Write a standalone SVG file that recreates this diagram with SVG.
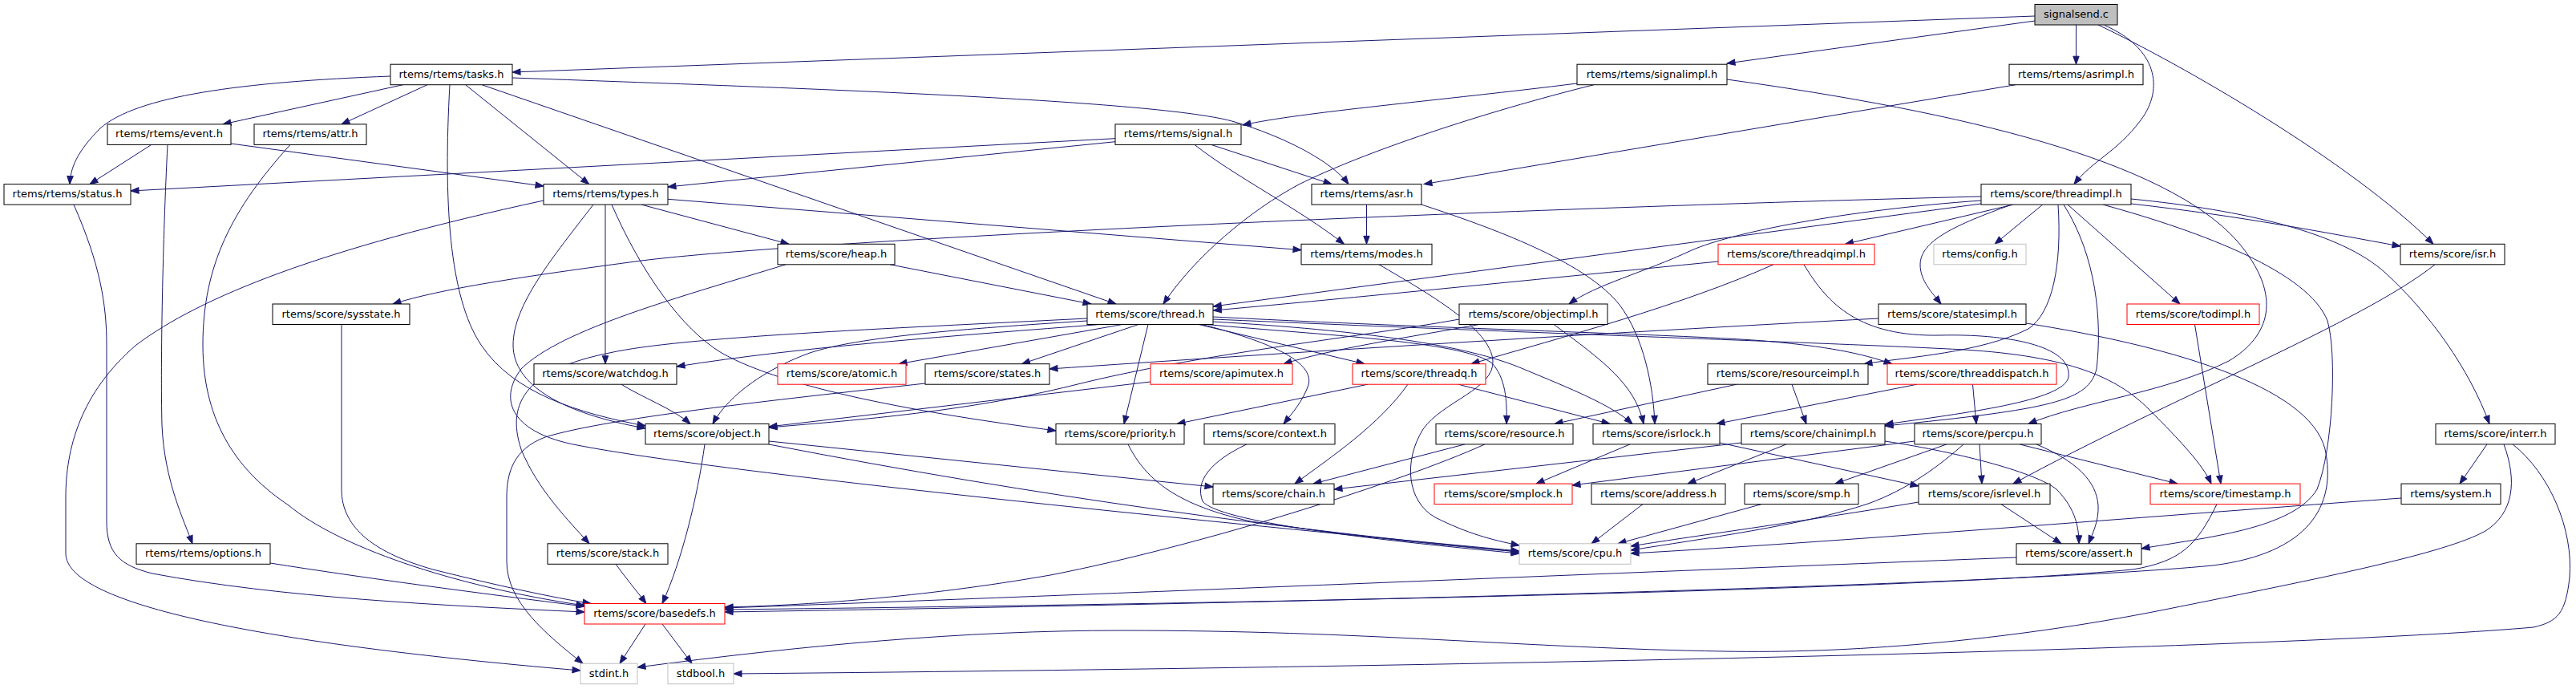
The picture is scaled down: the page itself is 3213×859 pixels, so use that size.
<svg xmlns="http://www.w3.org/2000/svg" width="3213" height="859" viewBox="0 0 3213 859">
<defs>
<marker id="a" markerUnits="userSpaceOnUse" markerWidth="12" markerHeight="10" refX="10" refY="4" orient="auto" overflow="visible">
<path d="M0,0.3 L10,4 L0,7.7 z" fill="#191970" stroke="#191970" stroke-width="1"/>
</marker>
<style>
.node rect{fill:#ffffff;stroke:#000000;stroke-width:1}
.node.red rect{stroke:#ff0000}
.node.gray rect{stroke:#bfbfbf}
.node.root rect{fill:#bfbfbf}
.node text{font-family:'DejaVu Sans','Liberation Sans',sans-serif;font-size:13px;text-anchor:middle;fill:#000000}
#edges path{fill:none;stroke:#191970;stroke-width:1;marker-end:url(#a)}
</style>
</defs>
<rect width="3213" height="859" fill="#ffffff"/>
<g id="edges">
<path d="M2538,20 L639,90"/>
<path d="M2538,26 L2154,79"/>
<path d="M2589.5,31 L2589.5,80.2"/>
<path d="M2625,31.5 C2690,60 2700,110 2670,150 C2640,190 2610,200 2587,229.6"/>
<path d="M2617,31 C2720,80 2930,200 3035,304.3"/>
<path d="M487,95 C300,102 170,120 125,160 C95,190 88,210 87,229.6"/>
<path d="M502.6,105.7 L278,154.9"/>
<path d="M533,105.7 L426,154.9"/>
<path d="M580.6,105.7 L734.7,229.6"/>
<path d="M601,105.7 L1392,379"/>
<path d="M561,105.7 C553,250 560,370 600,430 C640,490 720,515 805,531"/>
<path d="M639,97 C1000,110 1450,125 1540,152 C1600,170 1660,200 1682,229.6"/>
<path d="M1967,104 C1800,125 1620,140 1550,156"/>
<path d="M1988,105.7 C1850,140 1700,190 1620,230 C1560,262 1490,320 1451,379"/>
<path d="M2154,99 C2450,140 2700,200 2790,300 C2850,370 2830,420 2780,450 C2700,490 2600,500 2530,528.4"/>
<path d="M2514,105.7 L1776,229.6"/>
<path d="M188.8,180.4 L112,229.6"/>
<path d="M288,179 L678,232"/>
<path d="M209,180.4 C203,300 200,450 202,530 C205,600 230,650 240,677.8"/>
<path d="M362,180.4 C290,260 253,330 253,430 C253,530 300,590 360,630 C420,680 560,730 729,755"/>
<path d="M1391,172.7 L163,238"/>
<path d="M1391,176.7 L833,233"/>
<path d="M1510.7,180.4 L1661,229.6"/>
<path d="M1490,180.4 C1540,220 1620,260 1676.5,304.3"/>
<path d="M92,255.1 C125,330 133,380 133,430 L133,650 C133,690 150,705 190,715 C350,745 550,755 729,763"/>
<path d="M800,255.1 L984,304.3"/>
<path d="M833,248.3 L1623,311.7"/>
<path d="M755,255.1 L755,453.7"/>
<path d="M740,255.1 C690,320 640,380 640,430 C640,480 700,515 805,534"/>
<path d="M763,255.1 C800,340 850,410 900,440 C980,485 1150,515 1317,537"/>
<path d="M678,250 C400,310 250,370 170,430 C100,490 82,560 82,620 L82,690 C82,750 300,800 724,836"/>
<path d="M1704.5,255.1 L1704.5,304.3"/>
<path d="M1773,255.1 C1880,290 1980,330 2020,380 C2050,420 2062,480 2064,528.4"/>
<path d="M2471,245 C1800,262 1000,300 800,325 C650,345 550,360 490,379"/>
<path d="M2471,250 C2300,262 2160,290 2110,312 C2050,340 1990,355 1957,379"/>
<path d="M2471,254 L1513.3,382"/>
<path d="M2511,255.1 L2301.5,304.3"/>
<path d="M2547.7,255.1 L2488,304.3"/>
<path d="M2508,255.5 C2440,280 2395,300 2395,330 C2395,350 2410,365 2421,379"/>
<path d="M2579,255.1 L2719,379"/>
<path d="M2658,254 C2800,270 2900,290 2994,307"/>
<path d="M2574,255.1 C2615,320 2622,400 2615,460 C2605,500 2560,510 2351,531"/>
<path d="M2567,255.1 C2572,330 2560,390 2530,410 C2470,440 2380,445 2325,453.7"/>
<path d="M2623,255.1 C2750,290 2880,340 2903,400 C2915,440 2910,560 2890,610 C2860,660 2750,670 2671,684"/>
<path d="M2658,248 C2800,262 2920,290 2975,340 C3030,390 3080,460 3105,528.4"/>
<path d="M1110,329.8 L1361,379"/>
<path d="M980,329.8 C850,370 700,410 650,460 C620,500 640,540 720,555 C900,590 1500,650 1895,687"/>
<path d="M1720,329.8 C1780,365 1860,410 1862,450 C1864,485 1800,500 1775,535 C1750,575 1755,625 1790,645 C1830,665 1860,673 1895,680"/>
<path d="M2143,326 C1900,350 1650,375 1513.3,387"/>
<path d="M2212,329.8 C2100,380 1950,420 1835,453.7"/>
<path d="M2250,329.8 C2280,380 2320,420 2420,418 C2500,416 2585,430 2580,470 C2575,500 2450,515 2351,529"/>
<path d="M3037,329.8 C2950,400 2700,500 2511,603.1"/>
<path d="M426,404.5 L426,610 C426,660 470,690 540,710 C620,730 690,745 737,752.5"/>
<path d="M1372,404.5 C1200,418 1000,432 844,457"/>
<path d="M1356,400 C1200,410 1070,420 1010,440 C960,458 910,490 889,528.4"/>
<path d="M1400,404.5 L1121,453.7"/>
<path d="M1420,404.5 L1274.5,453.7"/>
<path d="M1432,404.5 L1402,528.4"/>
<path d="M1499,404.5 C1580,425 1640,450 1632,480 C1625,500 1612,515 1601,528.4"/>
<path d="M1356,397 C1100,410 850,420 760,440 C660,460 630,500 650,560 C670,610 710,650 735,677.8"/>
<path d="M1495,404.5 L1702,453.7"/>
<path d="M1505,404.5 C1650,418 1820,425 1860,452 C1878,470 1880,500 1879,528.4"/>
<path d="M1513,401 C1700,412 1830,430 1900,460 C1960,485 2010,505 2036,528.4"/>
<path d="M1513,395 C1800,410 2100,417 2200,425 C2280,432 2320,440 2360,453.7"/>
<path d="M1513,398 C1900,415 2300,428 2450,436 C2580,444 2640,470 2680,510 C2720,550 2748,580 2758,603.1"/>
<path d="M1820,398 C1700,420 1500,440 1340,480 C1200,515 1050,525 959,533"/>
<path d="M1845,404.5 C1760,420 1660,435 1601,453.7"/>
<path d="M1938,404.5 C2000,450 2040,480 2050,528.4"/>
<path d="M2343,397 C2000,415 1600,440 1309,460"/>
<path d="M2527,403 C2700,430 2880,480 2900,560 C2915,630 2880,690 2760,705 C2500,730 1600,752 904,763"/>
<path d="M2737.5,404.5 L2770,603.1"/>
<path d="M775,479.2 C800,495 840,510 861,528.4"/>
<path d="M1154,478 C1000,495 760,520 680,545 C640,560 632,590 632,620 L632,700 C632,750 680,790 727,827.2"/>
<path d="M1435,476 L959,532"/>
<path d="M1706,479.2 L1468,528.4"/>
<path d="M1756,479.2 C1720,530 1660,570 1615,603.1"/>
<path d="M1819,479.2 L2008,528.4"/>
<path d="M2166,479.2 L1939,528.4"/>
<path d="M2235,479.2 L2253,528.4"/>
<path d="M2460.5,479.2 L2465,528.4"/>
<path d="M2391,479.2 L2141,528.4"/>
<path d="M879,553.9 C870,620 850,700 826,752.5"/>
<path d="M959,550 L1513,607"/>
<path d="M959,554 C1300,620 1600,660 1895,688"/>
<path d="M1407,553.9 C1430,600 1470,630 1560,650 C1700,670 1800,680 1895,688"/>
<path d="M1555,553.9 C1510,575 1490,600 1500,625 C1520,650 1700,672 1895,690"/>
<path d="M1852,553.9 C1750,600 1500,680 1310,717 C1150,745 1000,755 904,757"/>
<path d="M1827,553.9 L1638,603.1"/>
<path d="M2033,553.9 L1916,603.1"/>
<path d="M2145,552 L2393,606"/>
<path d="M2172,552 L1664,610"/>
<path d="M2228,553.9 L2105,603.1"/>
<path d="M2351,550 C2450,565 2540,590 2565,610 C2590,635 2593,660 2593,677.8"/>
<path d="M2388,550 L1961,605"/>
<path d="M2428,553.9 L2289,603.1"/>
<path d="M2469,553.9 L2472,603.1"/>
<path d="M2519,553.9 L2716,603.1"/>
<path d="M2540,553.9 C2590,575 2615,600 2617,630 C2618,650 2610,665 2605,677.8"/>
<path d="M2449,553.9 C2420,580 2380,610 2330,628 C2250,655 2120,672 2034,686"/>
<path d="M2049,628.6 L1985,677.8"/>
<path d="M2197,628.6 L2018,677.8"/>
<path d="M2393,626 C2250,650 2100,670 2034,681"/>
<path d="M2496,628.6 L2571,677.8"/>
<path d="M2765,628.6 C2740,680 2720,700 2660,710 C2400,735 1600,752 904,760"/>
<path d="M2995,621 C2600,650 2300,675 2034,690"/>
<path d="M768,703.3 C780,720 795,738 806,752.5"/>
<path d="M337,702 C450,720 600,740 729,756"/>
<path d="M2515,695 C2000,715 1400,740 904,758"/>
<path d="M805,778 L773,827.2"/>
<path d="M826,778 L863,827.2"/>
<path d="M3102,553.9 L3068,603.1"/>
<path d="M3123,553.9 C3140,600 3135,640 3100,662 C3050,690 2900,720 2700,760 C2500,800 2300,815 2150,812 C1900,808 1700,786 1400,786 C1200,786 1000,805 795,832"/>
<path d="M3134,553.9 C3180,590 3210,660 3205,720 C3200,765 3190,775 3160,782 C2900,805 2000,830 915,840"/>
</g>
<g id="n-signalsend" class="node root"><rect x="2538" y="5.5" width="103" height="25.5"/><text x="2589.5" y="22">signalsend.c</text></g>
<g id="n-tasks" class="node"><rect x="487" y="80.2" width="152" height="25.5"/><text x="563" y="96.7">rtems/rtems/tasks.h</text></g>
<g id="n-signalimpl" class="node"><rect x="1967" y="80.2" width="187" height="25.5"/><text x="2060.5" y="96.7">rtems/rtems/signalimpl.h</text></g>
<g id="n-asrimpl" class="node"><rect x="2506" y="80.2" width="167" height="25.5"/><text x="2589.5" y="96.7">rtems/rtems/asrimpl.h</text></g>
<g id="n-event" class="node"><rect x="134" y="154.9" width="154" height="25.5"/><text x="211" y="171.4">rtems/rtems/event.h</text></g>
<g id="n-attr" class="node"><rect x="317" y="154.9" width="140" height="25.5"/><text x="387" y="171.4">rtems/rtems/attr.h</text></g>
<g id="n-signal" class="node"><rect x="1391" y="154.9" width="157" height="25.5"/><text x="1469.5" y="171.4">rtems/rtems/signal.h</text></g>
<g id="n-status" class="node"><rect x="5" y="229.6" width="158" height="25.5"/><text x="84" y="246.1">rtems/rtems/status.h</text></g>
<g id="n-types" class="node"><rect x="678" y="229.6" width="155" height="25.5"/><text x="755.5" y="246.1">rtems/rtems/types.h</text></g>
<g id="n-asr" class="node"><rect x="1636" y="229.6" width="137" height="25.5"/><text x="1704.5" y="246.1">rtems/rtems/asr.h</text></g>
<g id="n-threadimpl" class="node"><rect x="2471" y="229.6" width="187" height="25.5"/><text x="2564.5" y="246.1">rtems/score/threadimpl.h</text></g>
<g id="n-heap" class="node"><rect x="970" y="304.3" width="146" height="25.5"/><text x="1043" y="320.8">rtems/score/heap.h</text></g>
<g id="n-modes" class="node"><rect x="1623" y="304.3" width="163" height="25.5"/><text x="1704.5" y="320.8">rtems/rtems/modes.h</text></g>
<g id="n-threadqimpl" class="node red"><rect x="2143" y="304.3" width="195" height="25.5"/><text x="2240.5" y="320.8">rtems/score/threadqimpl.h</text></g>
<g id="n-config" class="node gray"><rect x="2412" y="304.3" width="115" height="25.5"/><text x="2469.5" y="320.8">rtems/config.h</text></g>
<g id="n-isr" class="node"><rect x="2994" y="304.3" width="130" height="25.5"/><text x="3059" y="320.8">rtems/score/isr.h</text></g>
<g id="n-sysstate" class="node"><rect x="340" y="379" width="171" height="25.5"/><text x="425.5" y="395.5">rtems/score/sysstate.h</text></g>
<g id="n-thread" class="node"><rect x="1356" y="379" width="157" height="25.5"/><text x="1434.5" y="395.5">rtems/score/thread.h</text></g>
<g id="n-objectimpl" class="node"><rect x="1820" y="379" width="185" height="25.5"/><text x="1912.5" y="395.5">rtems/score/objectimpl.h</text></g>
<g id="n-statesimpl" class="node"><rect x="2343" y="379" width="184" height="25.5"/><text x="2435" y="395.5">rtems/score/statesimpl.h</text></g>
<g id="n-todimpl" class="node red"><rect x="2653" y="379" width="165" height="25.5"/><text x="2735.5" y="395.5">rtems/score/todimpl.h</text></g>
<g id="n-watchdog" class="node"><rect x="666" y="453.7" width="178" height="25.5"/><text x="755" y="470.2">rtems/score/watchdog.h</text></g>
<g id="n-atomic" class="node red"><rect x="970" y="453.7" width="160" height="25.5"/><text x="1050" y="470.2">rtems/score/atomic.h</text></g>
<g id="n-states" class="node"><rect x="1154" y="453.7" width="155" height="25.5"/><text x="1231.5" y="470.2">rtems/score/states.h</text></g>
<g id="n-apimutex" class="node red"><rect x="1435" y="453.7" width="177" height="25.5"/><text x="1523.5" y="470.2">rtems/score/apimutex.h</text></g>
<g id="n-threadq" class="node red"><rect x="1687" y="453.7" width="166" height="25.5"/><text x="1770" y="470.2">rtems/score/threadq.h</text></g>
<g id="n-resourceimpl" class="node"><rect x="2130" y="453.7" width="200" height="25.5"/><text x="2230" y="470.2">rtems/score/resourceimpl.h</text></g>
<g id="n-threaddispatch" class="node red"><rect x="2354" y="453.7" width="211" height="25.5"/><text x="2459.5" y="470.2">rtems/score/threaddispatch.h</text></g>
<g id="n-object" class="node"><rect x="805" y="528.4" width="154" height="25.5"/><text x="882" y="544.9">rtems/score/object.h</text></g>
<g id="n-priority" class="node"><rect x="1317" y="528.4" width="160" height="25.5"/><text x="1397" y="544.9">rtems/score/priority.h</text></g>
<g id="n-context" class="node"><rect x="1502" y="528.4" width="163" height="25.5"/><text x="1583.5" y="544.9">rtems/score/context.h</text></g>
<g id="n-resource" class="node"><rect x="1791" y="528.4" width="171" height="25.5"/><text x="1876.5" y="544.9">rtems/score/resource.h</text></g>
<g id="n-isrlock" class="node"><rect x="1987" y="528.4" width="158" height="25.5"/><text x="2066" y="544.9">rtems/score/isrlock.h</text></g>
<g id="n-chainimpl" class="node"><rect x="2172" y="528.4" width="179" height="25.5"/><text x="2261.5" y="544.9">rtems/score/chainimpl.h</text></g>
<g id="n-percpu" class="node"><rect x="2388" y="528.4" width="158" height="25.5"/><text x="2467" y="544.9">rtems/score/percpu.h</text></g>
<g id="n-interr" class="node"><rect x="3038" y="528.4" width="149" height="25.5"/><text x="3112.5" y="544.9">rtems/score/interr.h</text></g>
<g id="n-chain" class="node"><rect x="1513" y="603.1" width="151" height="25.5"/><text x="1588.5" y="619.6">rtems/score/chain.h</text></g>
<g id="n-smplock" class="node red"><rect x="1789" y="603.1" width="172" height="25.5"/><text x="1875" y="619.6">rtems/score/smplock.h</text></g>
<g id="n-address" class="node"><rect x="1985" y="603.1" width="167" height="25.5"/><text x="2068.5" y="619.6">rtems/score/address.h</text></g>
<g id="n-smp" class="node"><rect x="2176" y="603.1" width="142" height="25.5"/><text x="2247" y="619.6">rtems/score/smp.h</text></g>
<g id="n-isrlevel" class="node"><rect x="2393" y="603.1" width="164" height="25.5"/><text x="2475" y="619.6">rtems/score/isrlevel.h</text></g>
<g id="n-timestamp" class="node red"><rect x="2682" y="603.1" width="187" height="25.5"/><text x="2775.5" y="619.6">rtems/score/timestamp.h</text></g>
<g id="n-system" class="node"><rect x="2995" y="603.1" width="124" height="25.5"/><text x="3057" y="619.6">rtems/system.h</text></g>
<g id="n-stack" class="node"><rect x="683" y="677.8" width="150" height="25.5"/><text x="758" y="694.3">rtems/score/stack.h</text></g>
<g id="n-options" class="node"><rect x="170" y="677.8" width="167" height="25.5"/><text x="253.5" y="694.3">rtems/rtems/options.h</text></g>
<g id="n-cpu" class="node gray"><rect x="1895" y="677.8" width="139" height="25.5"/><text x="1964.5" y="694.3">rtems/score/cpu.h</text></g>
<g id="n-assert" class="node"><rect x="2515" y="677.8" width="156" height="25.5"/><text x="2593" y="694.3">rtems/score/assert.h</text></g>
<g id="n-basedefs" class="node red"><rect x="729" y="752.5" width="175" height="25.5"/><text x="816.5" y="769">rtems/score/basedefs.h</text></g>
<g id="n-stdint" class="node gray"><rect x="724" y="827.2" width="71" height="25.5"/><text x="759.5" y="843.7">stdint.h</text></g>
<g id="n-stdbool" class="node gray"><rect x="833" y="827.2" width="82" height="25.5"/><text x="874" y="843.7">stdbool.h</text></g>
</svg>
